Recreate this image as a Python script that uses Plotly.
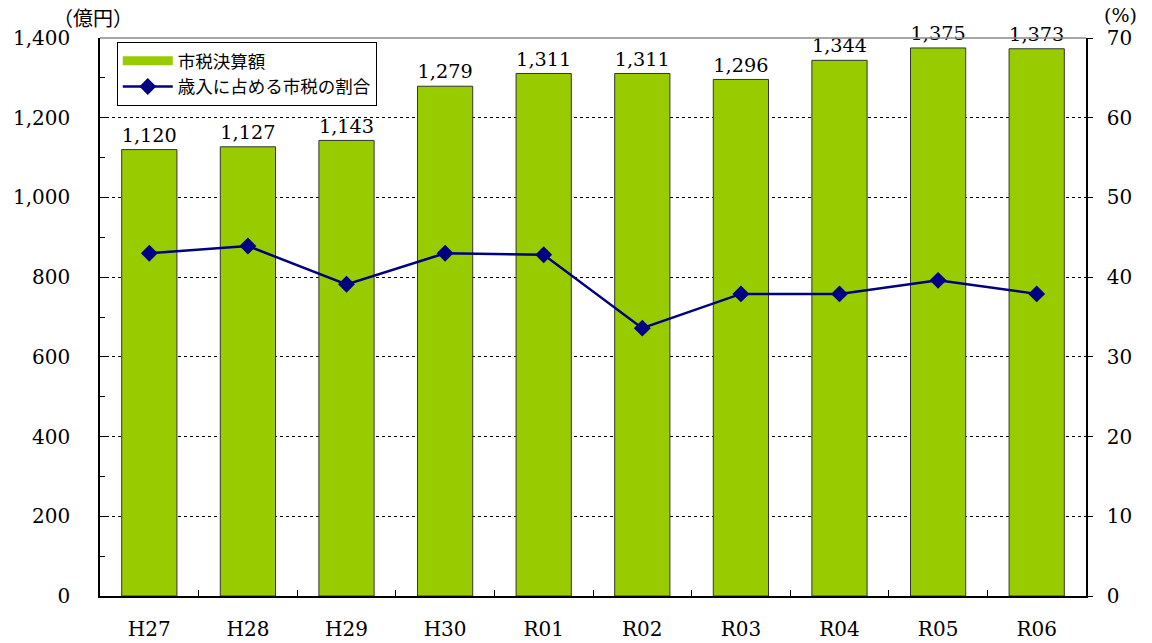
import plotly.graph_objects as go

categories = ["H27", "H28", "H29", "H30", "R01", "R02", "R03", "R04", "R05", "R06"]
tax_amount = [1120, 1127, 1143, 1279, 1311, 1311, 1296, 1344, 1375, 1373]
tax_share = [43.0, 43.9, 39.1, 43.0, 42.8, 33.6, 37.9, 37.9, 39.6, 37.9]

bar_name = "市税決算額"
line_name = "歳入に占める市税の割合"

num_font = "DejaVu Serif"
jp_font = "Noto Sans CJK JP"
bar_color = "#99CC00"
line_color = "#000080"

fig = go.Figure()
fig.add_trace(go.Bar(
    x=categories, y=tax_amount, name=bar_name, showlegend=False,
    marker=dict(color=bar_color, line=dict(color="#333333", width=1)),
    text=[f"{v:,}" for v in tax_amount], textposition="outside",
    textfont=dict(family=num_font, size=20, color="black"),
    cliponaxis=False, yaxis="y",
))
# legend stand-in for the bar series (wide rectangle swatch)
fig.add_trace(go.Scatter(
    x=[None], y=[None], name=bar_name, mode="lines",
    line=dict(color=bar_color, width=9), yaxis="y",
))
fig.add_trace(go.Scatter(
    x=categories, y=tax_share, name=line_name, mode="lines+markers",
    line=dict(color=line_color, width=2.5),
    marker=dict(symbol="diamond", size=13, color=line_color),
    yaxis="y2",
))

fig.update_layout(
    width=1152, height=643,
    margin=dict(l=100, r=66, t=38, b=47, autoexpand=False),
    paper_bgcolor="white", plot_bgcolor="white",
    bargap=0.44,
    showlegend=True,
    legend=dict(
        x=0.017, y=0.993, xanchor="left", yanchor="top",
        bgcolor="white", bordercolor="black", borderwidth=1,
        font=dict(family=jp_font, size=17.5, color="black"),
        tracegroupgap=0, itemwidth=50,
    ),
    xaxis=dict(
        type="category", showline=True, linecolor="black", linewidth=1.5,
        ticks="inside", tickson="boundaries", ticklen=6, tickcolor="black",
        tickfont=dict(family=num_font, size=20, color="black"),
        ticklabelstandoff=14,
        showgrid=False, range=[-0.5, 9.5], automargin=False,
    ),
    yaxis=dict(
        range=[0, 1400], dtick=200, tickformat=",",
        showline=True, linecolor="black", linewidth=1.5,
        ticks="inside", ticklen=7, tickcolor="black",
        minor=dict(dtick=100, ticks="inside", ticklen=5, tickcolor="black", showgrid=False),
        showgrid=True, gridcolor="black", griddash="dot", gridwidth=1,
        tickfont=dict(family=num_font, size=20, color="black"),
        ticklabelstandoff=24,
        zeroline=False, automargin=False,
    ),
    yaxis2=dict(
        range=[0, 70], dtick=10, overlaying="y", side="right",
        showline=True, linecolor="black", linewidth=1.5,
        ticks="outside", ticklen=5, tickcolor="black",
        showgrid=False, zeroline=False,
        tickfont=dict(family=num_font, size=20, color="black"),
        ticklabelstandoff=10, automargin=False,
    ),
    shapes=[
        dict(type="line", xref="paper", yref="paper", x0=0, x1=1, y0=1, y1=1,
             line=dict(color="#888888", width=1.5)),
    ],
)

fig.add_annotation(text="（億円）", xref="paper", yref="paper",
                   x=-0.05, y=1.036, xanchor="left", yanchor="middle", showarrow=False,
                   font=dict(family=jp_font, size=20, color="black"))
fig.add_annotation(text="(%)", xref="paper", yref="paper",
                   x=1.0345, y=1.041, xanchor="center", yanchor="middle", showarrow=False,
                   font=dict(family=num_font, size=19, color="black"))

fig.write_html("out.html", config={"displayModeBar": False},
               post_script="document.body.style.margin='0px';")
